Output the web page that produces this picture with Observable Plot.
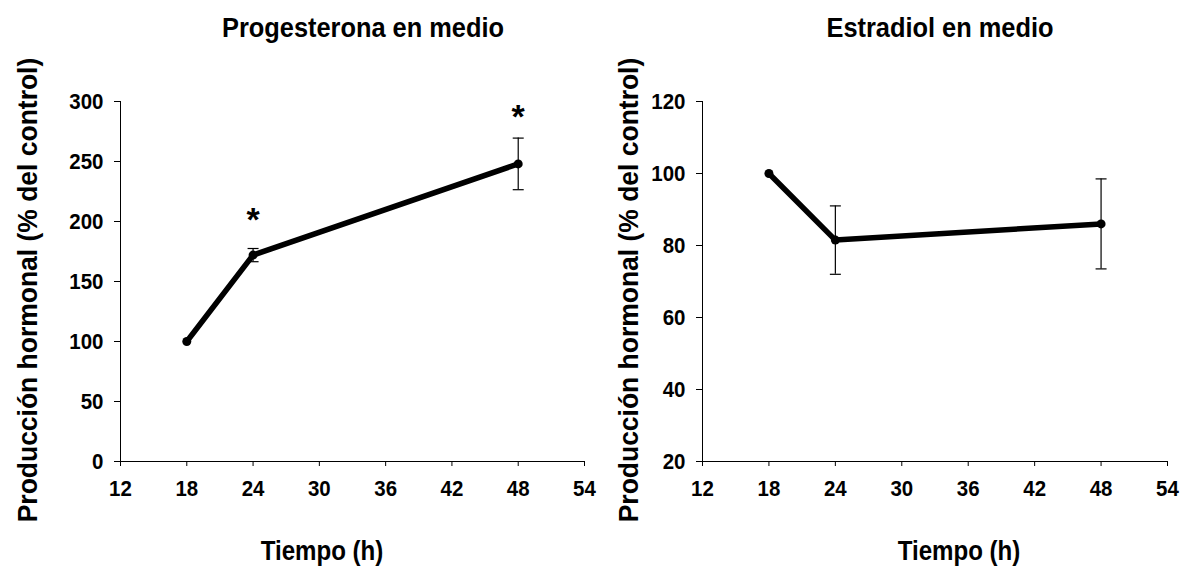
<!DOCTYPE html>
<html><head><meta charset="utf-8">
<script src="https://cdn.jsdelivr.net/npm/d3@7"></script>
<script src="https://cdn.jsdelivr.net/npm/@observablehq/plot@0.6"></script>
<style>
body{margin:0;background:#fff;}
#wrap{position:relative;width:1180px;height:570px;overflow:hidden;font-family:"Liberation Sans",Arial,sans-serif;font-weight:bold;color:#000;}
.panel{position:absolute;top:0;}
.panel svg{overflow:visible;}
.lbl{position:absolute;white-space:nowrap;font-weight:bold;line-height:1;}
</style></head><body><div id="wrap"></div>
<script>
// data
const hours = [18, 24, 48];
const progMean = [100, 172, 248];
const progErr = [0, 5.5, 21.5];
const estrMean = [100, 81.5, 86];
const estrErr = [0, 9.5, 12.5];
const xTicks = [12, 18, 24, 30, 36, 42, 48, 54];
const progTicks = [0, 50, 100, 150, 200, 250, 300];
const estrTicks = [20, 40, 60, 80, 100, 120];
const progStarHours = [24, 48];
const progStarLevels = [205, 291];
const titles = ["Progesterona en medio", "Estradiol en medio"];
const xLabel = "Tiempo (h)";
const yLabel = "Producción hormonal (% del control)";

const cap = {draw(ctx, size) { const w = Math.sqrt(size / Math.PI); ctx.moveTo(-w, 0); ctx.lineTo(w, 0); }};

function panel({mean, err, yDomain, yTicks, stars, width, marginLeft, marginRight}) {
  const rows = hours.map((h, i) => ({h, m: mean[i], lo: mean[i] - err[i], hi: mean[i] + err[i], e: err[i]}));
  const bars = rows.filter(d => d.e > 0);
  return Plot.plot({
    width, height: 570, marginLeft, marginRight, marginTop: 101, marginBottom: 109,
    style: {fontFamily: "'Liberation Sans', Arial, sans-serif", fontWeight: "bold", fontSize: "22px", color: "#000", background: "transparent", overflow: "visible"},
    x: {domain: [12, 54], ticks: xTicks, tickSize: 5, tickPadding: 14, label: null, tickFormat: d => String(d)},
    y: {domain: yDomain, ticks: yTicks, tickSize: 6, tickPadding: 11, label: null, tickFormat: d => String(d)},
    marks: [
      Plot.ruleX([12], {stroke: "#000", strokeWidth: 1}),
      Plot.ruleY([yDomain[0]], {stroke: "#000", strokeWidth: 1}),
      Plot.ruleX(bars, {x: "h", y1: "lo", y2: "hi", stroke: "#000", strokeWidth: 1.2}),
      Plot.dot(bars, {x: "h", y: "hi", symbol: cap, r: 5.5, stroke: "#000", fill: "none", strokeWidth: 1.2}),
      Plot.dot(bars, {x: "h", y: "lo", symbol: cap, r: 5.5, stroke: "#000", fill: "none", strokeWidth: 1.2}),
      Plot.line(rows, {x: "h", y: "m", stroke: "#000", strokeWidth: 5.5}),
      Plot.dot(rows, {x: "h", y: "m", r: 4.5, fill: "#000"}),
      Plot.text(stars, {x: "x", y: "y", text: () => "*", fontSize: 34, fontWeight: "bold", fill: "#000", dy: 5})
    ]
  });
}

const wrap = document.getElementById("wrap");
function addPanel(left, chart) {
  const d = document.createElement("div");
  d.className = "panel"; d.style.left = left + "px";
  d.appendChild(chart); wrap.appendChild(d);
  // slightly condensed tick labels, like the reference typeface
  chart.querySelectorAll('g[aria-label$="tick label"] text').forEach(t => {
    const w = t.getComputedTextLength();
    t.setAttribute("textLength", (w * 0.93).toFixed(2));
    t.setAttribute("lengthAdjust", "spacingAndGlyphs");
  });
}
addPanel(0, panel({mean: progMean, err: progErr, yDomain: [0, 300], yTicks: progTicks,
  stars: progStarHours.map((x, i) => ({x, y: progStarLevels[i]})), width: 600, marginLeft: 120, marginRight: 16}));
addPanel(580, panel({mean: estrMean, err: estrErr, yDomain: [20, 120], yTicks: estrTicks,
  stars: [], width: 600, marginLeft: 122, marginRight: 13}));

function label(text, x, y, size, sx, rot) {
  const d = document.createElement("div");
  d.className = "lbl"; d.textContent = text;
  d.style.fontSize = size + "px";
  d.style.left = x + "px"; d.style.top = y + "px";
  d.style.transform = `translate(-50%,-50%)${rot ? " rotate(-90deg)" : ""} scaleX(${sx})`;
  wrap.appendChild(d);
}
label(titles[0], 363, 28, 27, 0.94, false);
label(titles[1], 940, 28, 27, 0.94, false);
label(xLabel, 322, 551, 28, 0.86, false);
label(xLabel, 959, 551, 28, 0.86, false);
label(yLabel, 28, 290, 27, 0.98, true);
label(yLabel, 629, 290, 27, 0.98, true);
</script></body></html>
